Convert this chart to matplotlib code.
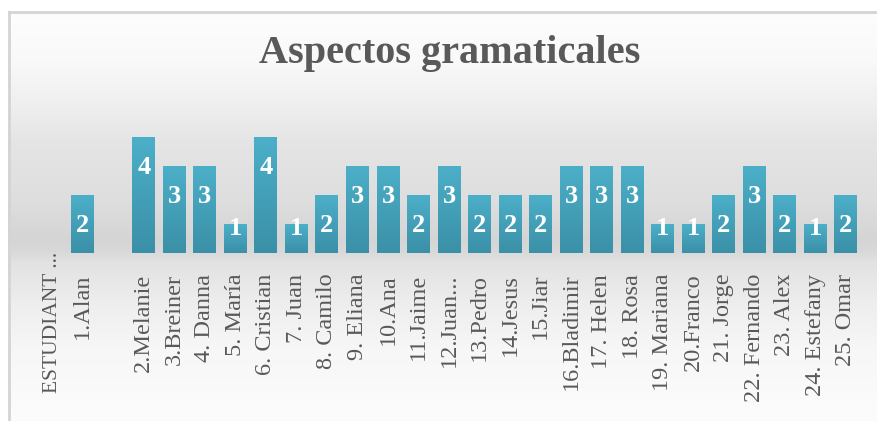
import matplotlib.pyplot as plt
import numpy as np
from matplotlib.colors import LinearSegmentedColormap
from matplotlib.transforms import ScaledTranslation

# datos del grafico
estudiantes = ['ESTUDIANT ...', '1.Alan', '', '2.Melanie', '3.Breiner', '4. Danna',
               '5. María', '6. Cristian', '7. Juan', '8. Camilo', '9. Eliana', '10.Ana',
               '11.Jaime', '12.Juan...', '13.Pedro', '14.Jesus', '15.Jiar', '16.Bladimir',
               '17. Helen', '18. Rosa', '19. Mariana', '20.Franco', '21. Jorge',
               '22. Fernando', '23. Alex', '24. Estefany', '25. Omar']
puntajes = [np.nan, 2, np.nan, 4, 3, 3, 1, 4, 1, 2, 3, 3, 2, 3, 2, 2, 2, 3, 3, 3,
            1, 1, 2, 3, 2, 1, 2]
titulo = 'Aspectos gramaticales'

W, H = 878, 421
fig = plt.figure(figsize=(W / 100, H / 100), dpi=100)

# fondo con degradado gris
bg = fig.add_axes([0, 0, 1, 1], zorder=-1)
ys = np.arange(H)
stops_y = [12, 60, 100, 140, 200, 238, 250, 262, 300, 350, 421]
stops_g = [253, 249, 240, 229, 222, 213, 216, 226, 237, 247, 252]
gris = np.interp(ys, stops_y, stops_g) / 255.0
img = np.repeat(gris[:, None], W, axis=1)
img[:12, :] = 1.0
img[:, :8] = 1.0
bg.imshow(np.dstack([img, img, img]), aspect='auto', extent=[0, W, H, 0])
bg.plot([9, 9], [12, H], color='#d4d4d4', lw=2)
bg.plot([9, W], [12, 12], color='#d4d4d4', lw=2)
bg.set_xlim(0, W)
bg.set_ylim(H, 0)
bg.axis('off')

ax = fig.add_axes([37 / W, (H - 253) / H, 824 / W, 145 / H])
ax.set_facecolor('none')
x = np.arange(len(estudiantes))
vals = np.array(puntajes, dtype=float)
bars = ax.bar(x, vals, width=0.75, color='#42a1bb', zorder=2)

cmap = LinearSegmentedColormap.from_list('barra', ['#3a90a7', '#4cafc8'])
grad = np.linspace(0, 1, 100).reshape(-1, 1)
for b, v in zip(bars, vals):
    if np.isnan(v):
        continue
    x0 = b.get_x()
    ax.imshow(grad, cmap=cmap, extent=[x0, x0 + b.get_width(), 0, v],
              origin='lower', aspect='auto', zorder=3)
    ax.text(x0 + b.get_width() / 2, max(v - 1.06, 0.86), '%d' % v, ha='center', va='center',
            color='white', fontsize=19, fontweight='bold', family='Liberation Serif', zorder=4)

ax.set_xlim(-0.5, len(estudiantes) - 0.5)
ax.set_ylim(0, 5)
ax.set_xticks(x)
ax.set_xticklabels(estudiantes, rotation=90, fontsize=17.5, family='Liberation Serif',
                   color='#595959')
ax.tick_params(axis='x', length=0, pad=15)
ax.set_yticks([])
for s in ax.spines.values():
    s.set_visible(False)

# la primera etiqueta es mas larga y sube un poco
lbl = ax.get_xticklabels()[0]
lbl.set_fontsize(15.5)
lbl.set_transform(lbl.get_transform() + ScaledTranslation(0, 0.22, fig.dpi_scale_trans))

fig.text(450 / W, 1 - 54 / H, titulo, ha='center', va='center', fontsize=29,
         fontweight='bold', family='Liberation Serif', color='#595959')

plt.savefig('out.png', dpi=100)
